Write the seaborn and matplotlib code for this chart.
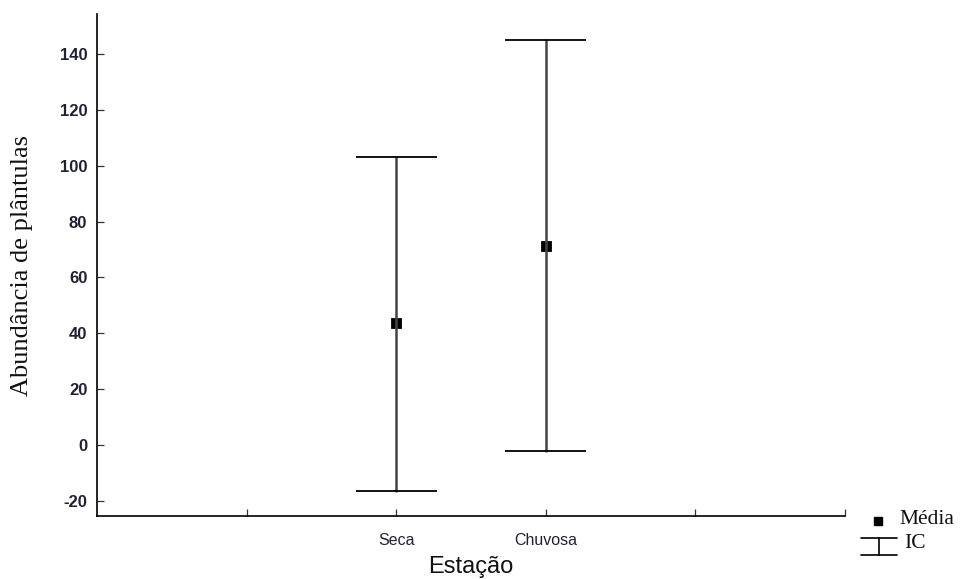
import numpy as np
import pandas as pd
import matplotlib.pyplot as plt
import seaborn as sns
from matplotlib.lines import Line2D

# Dados: média e intervalo de confiança por estação
estacoes = ['Seca', 'Chuvosa']
medias = [43.8, 71.3]
ic_inf = [-16.4, -2.0]
ic_sup = [103.1, 145.0]

# Tabela longa: inferior, média e superior para cada estação
df = pd.DataFrame({
    'Estação': np.repeat(estacoes, 3),
    'valor': np.ravel(np.column_stack([ic_inf, medias, ic_sup])),
})

sns.set_style('white')
fig = plt.figure(figsize=(9.64, 5.79), dpi=100)
ax = fig.add_axes([0.1006, 0.1088, 0.7760, 0.8670])

sns.pointplot(data=df, x='Estação', y='valor', order=estacoes, estimator='median',
              errorbar=lambda v: (v.min(), v.max()), linestyle='none', marker='s',
              markersize=6, color='black', capsize=0,
              err_kws={'linewidth': 1.8, 'color': '#444444'}, ax=ax)
# Caps finos e pretos
pos = np.arange(len(estacoes))
ax.hlines(ic_sup, pos - 0.27, pos + 0.27, color='black', linewidth=1.3)
ax.hlines(ic_inf, pos - 0.27, pos + 0.27, color='black', linewidth=1.3)

ax.set_xlim(-2, 3)
ax.set_ylim(-25.4, 154.3)
ax.set_xticks([-1, 0, 1, 2, 3])
ax.set_xticklabels(['', 'Seca', 'Chuvosa', '', ''], fontsize=11.5, fontfamily='Liberation Sans')
ax.set_yticks(np.arange(-20, 141, 20))
ax.set_yticklabels([str(v) for v in range(-20, 141, 20)], fontsize=12, fontfamily='Liberation Sans',
                   fontweight='bold')
ax.tick_params(direction='in', length=5, width=0.9, colors='#333333', labelcolor='#1f2233',
               left=True, bottom=True, pad=7)
ax.tick_params(axis='x', pad=12)

for s in ['top', 'right']:
    ax.spines[s].set_visible(False)
for s in ['left', 'bottom']:
    ax.spines[s].set_color('black')
    ax.spines[s].set_linewidth(1.2)

ax.set_xlabel('Estação', fontsize=17, fontfamily='Liberation Sans', color='#111111', labelpad=6)
ax.set_ylabel('Abundância de plântulas', fontsize=19, fontfamily='Liberation Serif',
              color='#111111', labelpad=19)

# Legenda manual fora do eixo
fig.add_artist(Line2D([878 / 964], [1 - 521 / 579], marker='s', markersize=5.5, color='black',
                      linestyle='none', transform=fig.transFigure))
fig.text(899 / 964, 1 - 520 / 579, 'Média', fontsize=15.5, fontfamily='Liberation Serif',
         va='center', color='#111111')
x0, x1, xm = 861 / 964, 897 / 964, 879 / 964
yt, yb = 1 - 538 / 579, 1 - 555 / 579
for xs, ys in [([x0, x1], [yt, yt]), ([x0, x1], [yb, yb]), ([xm, xm], [yt, yb])]:
    fig.add_artist(Line2D(xs, ys, color='black', linewidth=1.2, transform=fig.transFigure))
fig.text(904 / 964, 1 - 544 / 579, 'IC', fontsize=15.5, fontfamily='Liberation Serif',
         va='center', color='#111111')

fig.savefig('out.png', dpi=100)
